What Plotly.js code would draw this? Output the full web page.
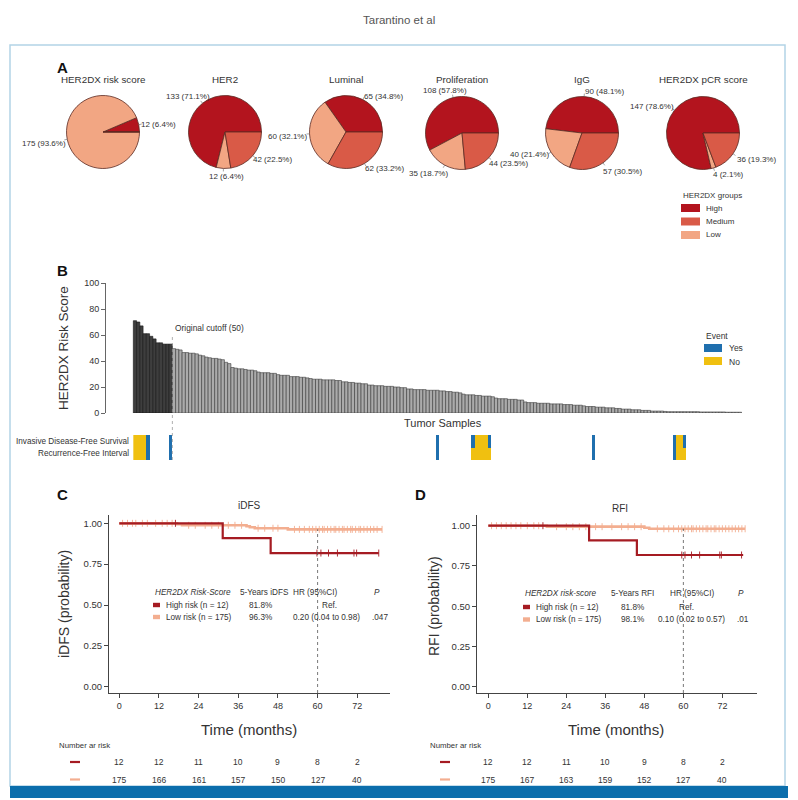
<!DOCTYPE html>
<html>
<head>
<meta charset="utf-8">
<script src="https://cdn.plot.ly/plotly-3.0.1.min.js"></script>
<style>html,body{margin:0;padding:0;background:#fff;}#chart{width:798px;height:800px;}</style>
</head>
<body>
<div id="chart"></div>
<script>
// ---------------- DATA ----------------
const pieTitles = ['HER2DX risk score', 'HER2', 'Luminal', 'Proliferation', 'IgG', 'HER2DX pCR score'];
const groupNames = ['High', 'Low', 'Medium'];          // slice order (counter-clockwise from 3 o'clock)
const legendGroups = ['High', 'Medium', 'Low'];
const pieHigh   = [12, 133, 65, 108, 90, 147];
const pieLow    = [175, 12, 60, 35, 40, 4];
const pieMedium = [0, 42, 62, 44, 57, 36];

const nHighRisk = 12;
const riskScores = [
  71, 70, 67, 61, 61, 59, 57, 54, 54, 53, 53, 53,
  49.5, 49, 48.5,
  46.5, 46.5, 46, 46, 45.5,
  44.5, 44,
  43, 42.5, 42, 42, 41.5, 41,
  39, 38,
  35, 34.5, 34, 34,
  33.5, 33, 33, 32.5,
  31.5, 31, 31, 31, 30.5, 30.5,
  29.5, 29, 29, 29,
  28, 28, 28, 27.5, 27.5, 27,
  26.5, 26, 26, 26, 25.5, 25.5, 25.5, 25.5, 25, 25,
  24, 24, 23.5, 23.5, 23, 23, 22.5, 22.5,
  21.5, 21.5, 21, 21, 21, 20.5, 20.5, 20.5,
  20, 20, 19.5, 19.5,
  18.5, 18.5, 18, 18, 18, 18, 17.5, 17.5, 17.5, 17.5, 17, 17,
  16.5, 16.5, 16, 16, 15.5,
  14.5, 14, 14, 14, 13.5, 13.5, 13, 13, 13, 12.5,
  11.5, 11, 11, 11, 10.5, 10.5, 10.5, 10, 10,
  8.5, 8, 8, 8, 7.5, 7.5, 7.5, 7.5, 7, 7, 7, 7,
  6.5, 6.5, 6.5, 6, 6, 6, 5.5,
  5, 5, 5, 4.5, 4.5, 4.5, 4, 4, 4,
  3.5, 3.5, 3, 3, 3, 2.5, 2.5, 2.5,
  2, 2, 2, 1.5, 1.5, 1.5, 1.5, 1.2,
  1, 1, 1, 1, 1, 1, 1, 1, 1, 1, 0.8, 0.8, 0.8, 0.8, 0.8, 0.8, 0.8, 0.8, 0.6, 0.6, 0.6, 0.6, 0.6
];
const cutoffLabel = 'Original cutoff (50)';
const eventRows = ['Invasive Disease-Free Survival', 'Recurrence-Free Interval'];
const idfsYes = [4, 11, 93, 104, 109, 141, 166, 169];
const idfsNo  = [0, 1, 2, 3, 105, 106, 107, 108, 167, 168];
const rfiYes  = [4, 11, 93, 141, 166];
const rfiNo   = [0, 1, 2, 3, 104, 105, 106, 107, 108, 109, 167, 168, 169];

// Kaplan-Meier (C: iDFS, D: RFI)
const idfsHighT = [0, 31.3, 45.8, 78.5];
const idfsHighS = [1, 0.909, 0.818, 0.818];
const idfsHighCens = [17, 59.8, 61, 63.3, 66, 71, 71.8, 78.5];
const idfsLowT = [0, 17.5, 19, 38.5, 39.5, 41, 51, 79.5];
const idfsLowS = [1, 0.994, 0.988, 0.982, 0.976, 0.970, 0.963, 0.963];
const idfsLowCens = [1, 2.5, 4, 5, 7, 8.5, 11, 13, 14.5, 16, 21, 23, 26, 28, 30, 33, 35, 37, 42, 44, 46.5, 48, 53, 54.5, 56, 57.5, 58.5, 59.5, 60.5, 61.5, 62, 63, 64, 65, 65.5, 66.5, 67.5, 68, 69, 70, 70.5, 71.5, 72.5, 73, 74, 75, 76, 77, 78, 79.5];

const rfiHighT = [0, 31, 45.7, 78.4];
const rfiHighS = [1, 0.909, 0.818, 0.818];
const rfiHighCens = [16.8, 59.5, 60.5, 62.5, 65, 71.2, 71.7, 77.9];
const rfiLowT = [0, 18, 48, 49.5, 79];
const rfiLowS = [1, 0.994, 0.987, 0.981, 0.981];
const rfiLowCens = [1, 2.5, 4, 5.5, 7, 8.5, 10, 12, 14, 15.5, 21, 24, 26, 28, 30, 33, 35, 38, 41, 43, 45, 47, 52, 54, 55.5, 57, 58.5, 59.5, 60.5, 61.5, 62.5, 63, 64, 65, 66, 67, 67.5, 68.5, 69.5, 70, 71, 72, 73, 74, 75, 76, 77, 78, 79];

const atRiskTimes = [0, 12, 24, 36, 48, 60, 72];
const idfsAtRiskHigh = [12, 12, 11, 10, 9, 8, 2];
const idfsAtRiskLow  = [175, 166, 161, 157, 150, 127, 40];
const rfiAtRiskHigh  = [12, 12, 11, 10, 9, 8, 2];
const rfiAtRiskLow   = [175, 167, 163, 159, 152, 127, 40];

const tableHeaderC = ['<i>HER2DX Risk-Score</i>', '5-Years iDFS', 'HR (95%CI)', '<i>P</i>'];
const tableHighC = ['High risk (n = 12)', '81.8%', 'Ref.', ''];
const tableLowC  = ['Low risk (n = 175)', '96.3%', '0.20 (0.04 to 0.98)', '.047'];
const tableHeaderD = ['<i>HER2DX risk-score</i>', '5-Years RFI', 'HR (95%CI)', '<i>P</i>'];
const tableHighD = ['High risk (n = 12)', '81.8%', 'Ref.', ''];
const tableLowD  = ['Low risk (n = 175)', '98.1%', '0.10 (0.02 to 0.57)', '.01'];

// ---------------- STYLE / HELPERS ----------------
const W = 798, H = 800;
const px = x => x / W;
const py = y => 1 - y / H;
const REG = '"Liberation Sans", Arial, Helvetica, sans-serif';
const COL = {High: '#b3141e', Medium: '#d95a47', Low: '#f2a683'};
const KM_HIGH = '#a51b22', KM_LOW = '#f3ae90';
const BLUE = '#1f6fae', YELLOW = '#f0c010';

const annotations = [];
const shapes = [];
function ann(text, x, y, o) {
  o = o || {};
  annotations.push(Object.assign({
    text: text, x: px(x), y: py(y), xref: 'paper', yref: 'paper', showarrow: false,
    xanchor: o.xa || 'center', yanchor: 'middle',
    font: {size: o.size || 8, color: o.color || '#333', family: REG, weight: o.weight || 'normal'}
  }, o.extra || {}));
}
function rect(x0, y0, x1, y1, fill, line) {
  shapes.push({type: 'rect', xref: 'paper', yref: 'paper', x0: px(x0), x1: px(x1), y0: py(y1), y1: py(y0),
    fillcolor: fill || 'rgba(0,0,0,0)', line: line || {width: 0}, layer: 'above'});
}
function seg(x0, y0, x1, y1, color, w) {
  shapes.push({type: 'line', xref: 'paper', yref: 'paper', x0: px(x0), x1: px(x1), y0: py(y0), y1: py(y1),
    line: {color: color, width: w}, layer: 'above'});
}

const traces = [];

// ---------------- PANEL A: PIES ----------------
const pieCenters = [[103, 132], [225, 132], [346, 132], [462, 133], [582, 133], [703, 133]];
const pieR = 36.5;
const pieLabelPos = [
  {High: [158, 124], Low: [44, 144]},
  {High: [188, 96], Medium: [272, 160], Low: [226, 177]},
  {High: [383, 97], Low: [287, 136], Medium: [384, 169]},
  {High: [445, 90], Low: [428, 173], Medium: [508, 163]},
  {High: [604, 91], Low: [529, 155], Medium: [622, 172]},
  {High: [652, 106], Medium: [756, 159], Low: [728, 174]}
];
pieTitles.forEach((t, k) => {
  const [cx, cy] = pieCenters[k];
  const vals = [pieHigh[k], pieLow[k], pieMedium[k]];
  const total = vals.reduce((a, b) => a + b, 0);
  traces.push({
    type: 'pie', values: vals, labels: groupNames, sort: false, direction: 'counterclockwise',
    rotation: 90 - 360 * vals[0] / total,
    textinfo: 'none', hoverinfo: 'skip',
    marker: {colors: groupNames.map(g => COL[g]), line: {color: '#5b2a22', width: 0.8}},
    domain: {x: [px(cx - pieR), px(cx + pieR)], y: [py(cy + pieR), py(cy - pieR)]}
  });
  ann(t, cx, 79, {size: 9.8});
  let cum = 0;
  groupNames.forEach((g, j) => {
    const mid = (cum + vals[j] / 2) / total * 2 * Math.PI;
    cum += vals[j];
    const p = pieLabelPos[k][g];
    if (!p || vals[j] === 0) return;
    ann(vals[j] + ' (' + (vals[j] / total * 100).toFixed(1) + '%)', p[0], p[1], {size: 8});
    // short leader tick at slice edge
    const c = Math.cos(mid), s = Math.sin(mid);
    seg(cx + pieR * c, cy - pieR * s, cx + (pieR + 3) * c, cy - (pieR + 3) * s, '#666', 0.6);
  });
});
ann('HER2DX groups', 681, 195, {xa: 'left', size: 8});
legendGroups.forEach((g, i) => {
  const y = 208 + i * 13.5;
  rect(681, y - 4, 700, y + 4, COL[g]);
  ann(g, 704, y, {xa: 'left', size: 8});
});

// ---------------- PANEL B: RISK SCORE BARS ----------------
const sampleIdx = riskScores.map((_, i) => i);
traces.push({
  type: 'bar', x: sampleIdx, y: riskScores, xaxis: 'x', yaxis: 'y', hoverinfo: 'skip',
  marker: {color: sampleIdx.map(i => i < nHighRisk ? '#3e3e3e' : '#ababab'),
           line: {color: sampleIdx.map(i => i < nHighRisk ? '#151515' : '#3a3a3a'), width: 0.6}}
});
function eventRow(yes, no) {
  const r = sampleIdx.map(() => null);
  no.forEach(i => r[i] = 0);
  yes.forEach(i => r[i] = 1);
  return r;
}
traces.push({
  type: 'heatmap', x: sampleIdx, y: [0, 1], z: [eventRow(idfsYes, idfsNo), eventRow(rfiYes, rfiNo)],
  xaxis: 'x', yaxis: 'y2', zmin: 0, zmax: 1, showscale: false, hoverinfo: 'skip',
  colorscale: [[0, YELLOW], [0.5, YELLOW], [0.5, BLUE], [1, BLUE]]
});
eventRows.forEach((r, i) => {
  annotations.push({text: r, xref: 'paper', yref: 'y2', x: px(131), y: i, xanchor: 'right', yanchor: 'middle',
    showarrow: false, font: {size: 8.2, color: '#333', family: REG}});
});
shapes.push({type: 'line', xref: 'x', yref: 'paper', x0: nHighRisk - 0.5, x1: nHighRisk - 0.5,
  y0: py(460), y1: py(335), line: {color: '#9a9a9a', width: 0.8, dash: 'dot'}, layer: 'above'});
ann(cutoffLabel, 173, 328, {xa: 'left', size: 8.4});
ann('Tumor Samples', 402, 423, {xa: 'left', size: 11});
ann('HER2DX Risk Score', 63, 348, {size: 13.5, extra: {textangle: -90}});
ann('Event', 704, 336, {xa: 'left', size: 8.5});
rect(704, 344, 722, 352, BLUE);
ann('Yes', 727, 348, {xa: 'left', size: 8.5});
rect(704, 357, 722, 365, YELLOW);
ann('No', 727, 361.5, {xa: 'left', size: 8.5});

// ---------------- PANELS C & D: KAPLAN-MEIER ----------------
function survAt(T, S, t) { let s = S[0]; for (let i = 0; i < T.length; i++) if (T[i] <= t) s = S[i]; return s; }
function kmTraces(T, S, C, color, width, xa, ya) {
  traces.push({type: 'scatter', mode: 'lines', x: T, y: S, line: {shape: 'hv', color: color, width: width},
    xaxis: xa, yaxis: ya, hoverinfo: 'skip'});
  traces.push({type: 'scatter', mode: 'markers', x: C, y: C.map(t => survAt(T, S, t)), xaxis: xa, yaxis: ya,
    hoverinfo: 'skip', marker: {symbol: 'line-ns-open', size: 5, color: color, line: {color: color, width: 0.9}}});
}
kmTraces(idfsLowT, idfsLowS, idfsLowCens, KM_LOW, 2.6, 'x3', 'y3');
kmTraces(idfsHighT, idfsHighS, idfsHighCens, KM_HIGH, 2.2, 'x3', 'y3');
kmTraces(rfiLowT, rfiLowS, rfiLowCens, KM_LOW, 2.6, 'x4', 'y4');
kmTraces(rfiHighT, rfiHighS, rfiHighCens, KM_HIGH, 2.2, 'x4', 'y4');

const yrC = [-0.0386, 1.051], yrD = [-0.0391, 1.0664];
shapes.push({type: 'line', xref: 'x3', yref: 'y3', x0: 60, x1: 60, y0: yrC[0], y1: survAt(idfsLowT, idfsLowS, 60),
  line: {color: '#555', width: 0.8, dash: 'dot'}});
shapes.push({type: 'line', xref: 'x4', yref: 'y4', x0: 60, x1: 60, y0: yrD[0], y1: survAt(rfiLowT, rfiLowS, 60),
  line: {color: '#555', width: 0.8, dash: 'dot'}});

function kmTable(hdr, hi, lo, xs, yH, yR1, yR2, swX) {
  const anchors = ['left', 'left', 'left', 'center'];
  hdr.forEach((t, i) => ann(t, xs[0][i], yH, {xa: anchors[i], size: 8.2}));
  hi.forEach((t, i) => { if (t) ann(t, xs[1][i], yR1, {xa: anchors[i], size: 8.2}); });
  lo.forEach((t, i) => { if (t) ann(t, xs[2][i], yR2, {xa: anchors[i] === 'center' ? 'left' : anchors[i], size: 8.2}); });
  rect(swX, yR1 - 2.2, swX + 7, yR1 + 2.2, KM_HIGH);
  rect(swX, yR2 - 2.2, swX + 7, yR2 + 2.2, KM_LOW);
}
kmTable(tableHeaderC, tableHighC, tableLowC,
  [[153, 238, 291, 377], [164, 247, 320, 0], [164, 247, 291, 370]], 592, 605, 617, 153);
kmTable(tableHeaderD, tableHighD, tableLowD,
  [[523, 609, 668, 741], [534, 619, 677, 0], [534, 619, 656, 735]], 593, 607, 619.5, 523);

ann('iDFS', 249, 506, {size: 10});
ann('RFI', 620, 508, {size: 10});
ann('iDFS (probability)', 64, 604, {size: 14, extra: {textangle: -90}});
ann('RFI (probability)', 434, 606, {size: 14, extra: {textangle: -90}});
ann('Time (months)', 249, 729, {size: 15});
ann('Time (months)', 616, 729, {size: 15});

function atRisk(hi, lo, xa, xLabel, swX) {
  ann('Number ar risk', xLabel, 745, {xa: 'left', size: 7.8});
  seg(swX, 762, swX + 10, 762, KM_HIGH, 2.2);
  seg(swX, 779.5, swX + 10, 779.5, KM_LOW, 2.2);
  atRiskTimes.forEach((t, i) => {
    annotations.push({text: String(hi[i]), xref: xa, yref: 'paper', x: t, y: py(762), showarrow: false,
      xanchor: 'center', yanchor: 'middle', font: {size: 8.5, color: '#333', family: REG}});
    annotations.push({text: String(lo[i]), xref: xa, yref: 'paper', x: t, y: py(779.5), showarrow: false,
      xanchor: 'center', yanchor: 'middle', font: {size: 8.5, color: '#333', family: REG}});
  });
}
atRisk(idfsAtRiskHigh, idfsAtRiskLow, 'x3', 57, 70);
atRisk(rfiAtRiskHigh, rfiAtRiskLow, 'x4', 428, 440);

// ---------------- FRAME / PANEL LETTERS ----------------
ann('Tarantino et al', 399, 20, {size: 11.5, color: '#555'});
ann('A', 62, 67, {size: 15, color: '#111', weight: 'bold'});
ann('B', 62, 270, {size: 15, color: '#111', weight: 'bold'});
ann('C', 62, 494, {size: 15, color: '#111', weight: 'bold'});
ann('D', 420, 494, {size: 15, color: '#111', weight: 'bold'});
rect(10, 45, 785, 786, null, {color: '#b3d4e6', width: 1.5});
rect(10, 786, 788, 798, '#0b6eac');

// ---------------- LAYOUT ----------------
const kmX = (dom, range) => ({domain: dom, range: range, tickvals: atRiskTimes, ticks: 'outside', ticklen: 4,
  tickcolor: '#444', showline: true, linecolor: '#444', linewidth: 1, showgrid: false, zeroline: false,
  tickfont: {size: 9, family: REG, color: '#333'}});
const kmY = (dom, range) => ({domain: dom, range: range, tickvals: [0, 0.25, 0.5, 0.75, 1],
  ticktext: ['0.00', '0.25', '0.50', '0.75', '1.00'], ticks: 'outside', ticklen: 4, tickcolor: '#444',
  showline: true, linecolor: '#444', linewidth: 1, showgrid: false, zeroline: false,
  tickfont: {size: 9.5, family: REG, color: '#333'}});

const layout = {
  width: W, height: H, margin: {l: 0, r: 0, t: 0, b: 0}, paper_bgcolor: '#fff', plot_bgcolor: 'rgba(0,0,0,0)',
  showlegend: false, bargap: 0, font: {family: REG, color: '#333'},
  xaxis: {domain: [px(106), px(742)], range: [-8.9, 186.6], showticklabels: false, ticks: '', showline: false,
          showgrid: false, zeroline: false, anchor: 'y'},
  yaxis: {domain: [py(413), py(283)], range: [0, 100], tickvals: [0, 20, 40, 60, 80, 100], ticks: 'outside',
          ticklen: 4, tickcolor: '#666', showline: true, linecolor: '#666', linewidth: 1, showgrid: false,
          zeroline: false, tickfont: {size: 9, color: '#333'}, anchor: 'x'},
  yaxis2: {domain: [py(460), py(435)], range: [1.5, -0.5], visible: false, anchor: 'x'},
  xaxis3: Object.assign(kmX([px(109), px(390)], [-3.1, 81.9]), {anchor: 'y3'}),
  yaxis3: Object.assign(kmY([py(693), py(515)], yrC), {anchor: 'x3'}),
  xaxis4: Object.assign(kmX([px(477), px(757)], [-3.48, 82.65]), {anchor: 'y4'}),
  yaxis4: Object.assign(kmY([py(693), py(515)], yrD), {anchor: 'x4'}),
  annotations: annotations, shapes: shapes
};
Plotly.newPlot('chart', traces, layout, {staticPlot: true, displayModeBar: false});
</script>
</body>
</html>
